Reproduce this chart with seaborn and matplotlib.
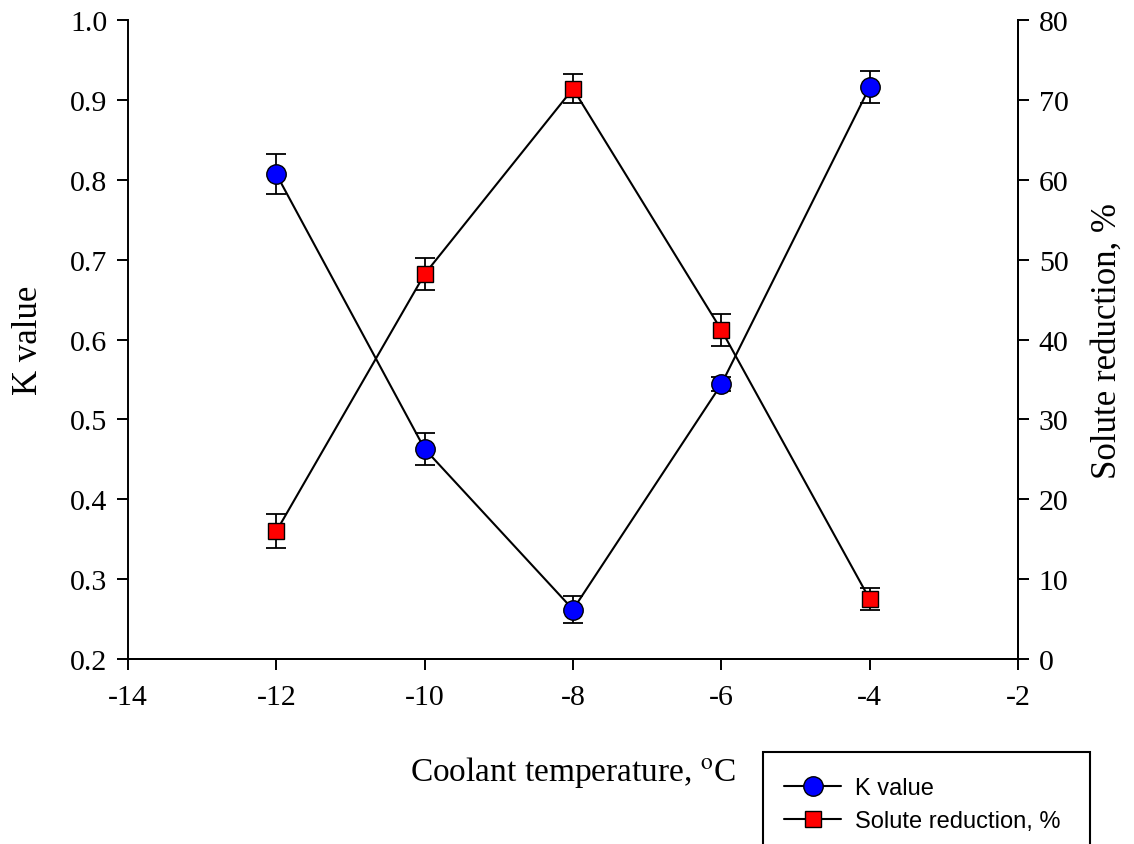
import numpy as np
import pandas as pd
import seaborn as sns
import matplotlib.pyplot as plt
from matplotlib.patches import Rectangle
from matplotlib.lines import Line2D

# Data
temperature = [-12, -10, -8, -6, -4]
k_value = [0.807, 0.463, 0.262, 0.544, 0.916]
k_err = [0.025, 0.020, 0.017, 0.009, 0.020]
solute_reduction = [16.0, 48.2, 71.4, 41.2, 7.5]
solute_err = [2.1, 2.0, 1.8, 2.0, 1.4]

df = pd.DataFrame({"temp": temperature, "k": k_value, "sr": solute_reduction})

sns.set_style("ticks")
plt.rcParams["font.family"] = ["Liberation Serif", "DejaVu Serif"]
plt.rcParams["mathtext.fontset"] = "stix"
plt.rcParams["axes.unicode_minus"] = False
plt.rcParams["axes.linewidth"] = 1.4
for key in ["text.color", "axes.labelcolor", "xtick.color", "ytick.color", "axes.edgecolor"]:
    plt.rcParams[key] = "black"

fig = plt.figure(figsize=(11.34, 8.45), dpi=100)
ax = fig.add_axes([0.1129, 0.2189, 0.7848, 0.7562])
ax2 = ax.twinx()

# K value (left axis)
ax.errorbar(temperature, k_value, yerr=k_err, fmt="none", ecolor="black",
            elinewidth=1.3, capsize=7, capthick=1.3, zorder=2)
sns.lineplot(data=df, x="temp", y="k", ax=ax, color="black", lw=1.5,
             marker="o", markersize=14, markerfacecolor="#0000ff",
             markeredgecolor="black", markeredgewidth=1.0, zorder=3)

# Solute reduction (right axis)
ax2.errorbar(temperature, solute_reduction, yerr=solute_err, fmt="none",
             ecolor="black", elinewidth=1.3, capsize=7, capthick=1.3, zorder=2)
sns.lineplot(data=df, x="temp", y="sr", ax=ax2, color="black", lw=1.5,
             marker="s", markersize=12, markerfacecolor="#ff0000",
             markeredgecolor="black", markeredgewidth=1.0, zorder=3)

ax.set_xlim(-14, -2)
ax.set_ylim(0.2, 1.0)
ax2.set_ylim(0, 80)
ax.set_xticks(np.arange(-14, -1, 2))
ax.set_yticks(np.arange(0.2, 1.01, 0.1))
ax.set_yticklabels([f"{v:.1f}" for v in np.arange(0.2, 1.01, 0.1)])
ax2.set_yticks(np.arange(0, 81, 10))

for a in (ax, ax2):
    a.spines["top"].set_visible(False)
    a.tick_params(direction="out", length=8, width=1.4, labelsize=21.5, pad=7)
ax.tick_params(axis="x", pad=10)
ax2.spines["left"].set_visible(False)

ax.set_xlabel(r"Coolant temperature, $^{\mathrm{o}}$C", fontsize=24, labelpad=32)
ax.set_ylabel("K value", fontsize=25, labelpad=18)
ax2.set_ylabel("Solute reduction, %", fontsize=25, labelpad=16)

# legend box, cut off at the bottom of the figure
x0, y0 = 763 / 1134, 1 - 753 / 845
fig.patches.append(Rectangle((x0, -0.05), 1090 / 1134 - x0, y0 + 0.05,
                             transform=fig.transFigure, fill=False,
                             edgecolor="black", lw=1.5))
handles = [
    Line2D([], [], color="black", lw=1.5, marker="o", markersize=14,
           markerfacecolor="#0000ff", markeredgecolor="black"),
    Line2D([], [], color="black", lw=1.5, marker="s", markersize=11,
           markerfacecolor="#ff0000", markeredgecolor="black"),
]
fig.legend(handles, ["K value", "Solute reduction, %"], loc="upper left",
           bbox_to_anchor=(x0 + 0.0, y0 - 0.005), frameon=False,
           prop={"family": "Liberation Sans", "size": 17},
           handlelength=2.4, handletextpad=0.6, labelspacing=0.45)

fig.savefig("out.png", dpi=100)
